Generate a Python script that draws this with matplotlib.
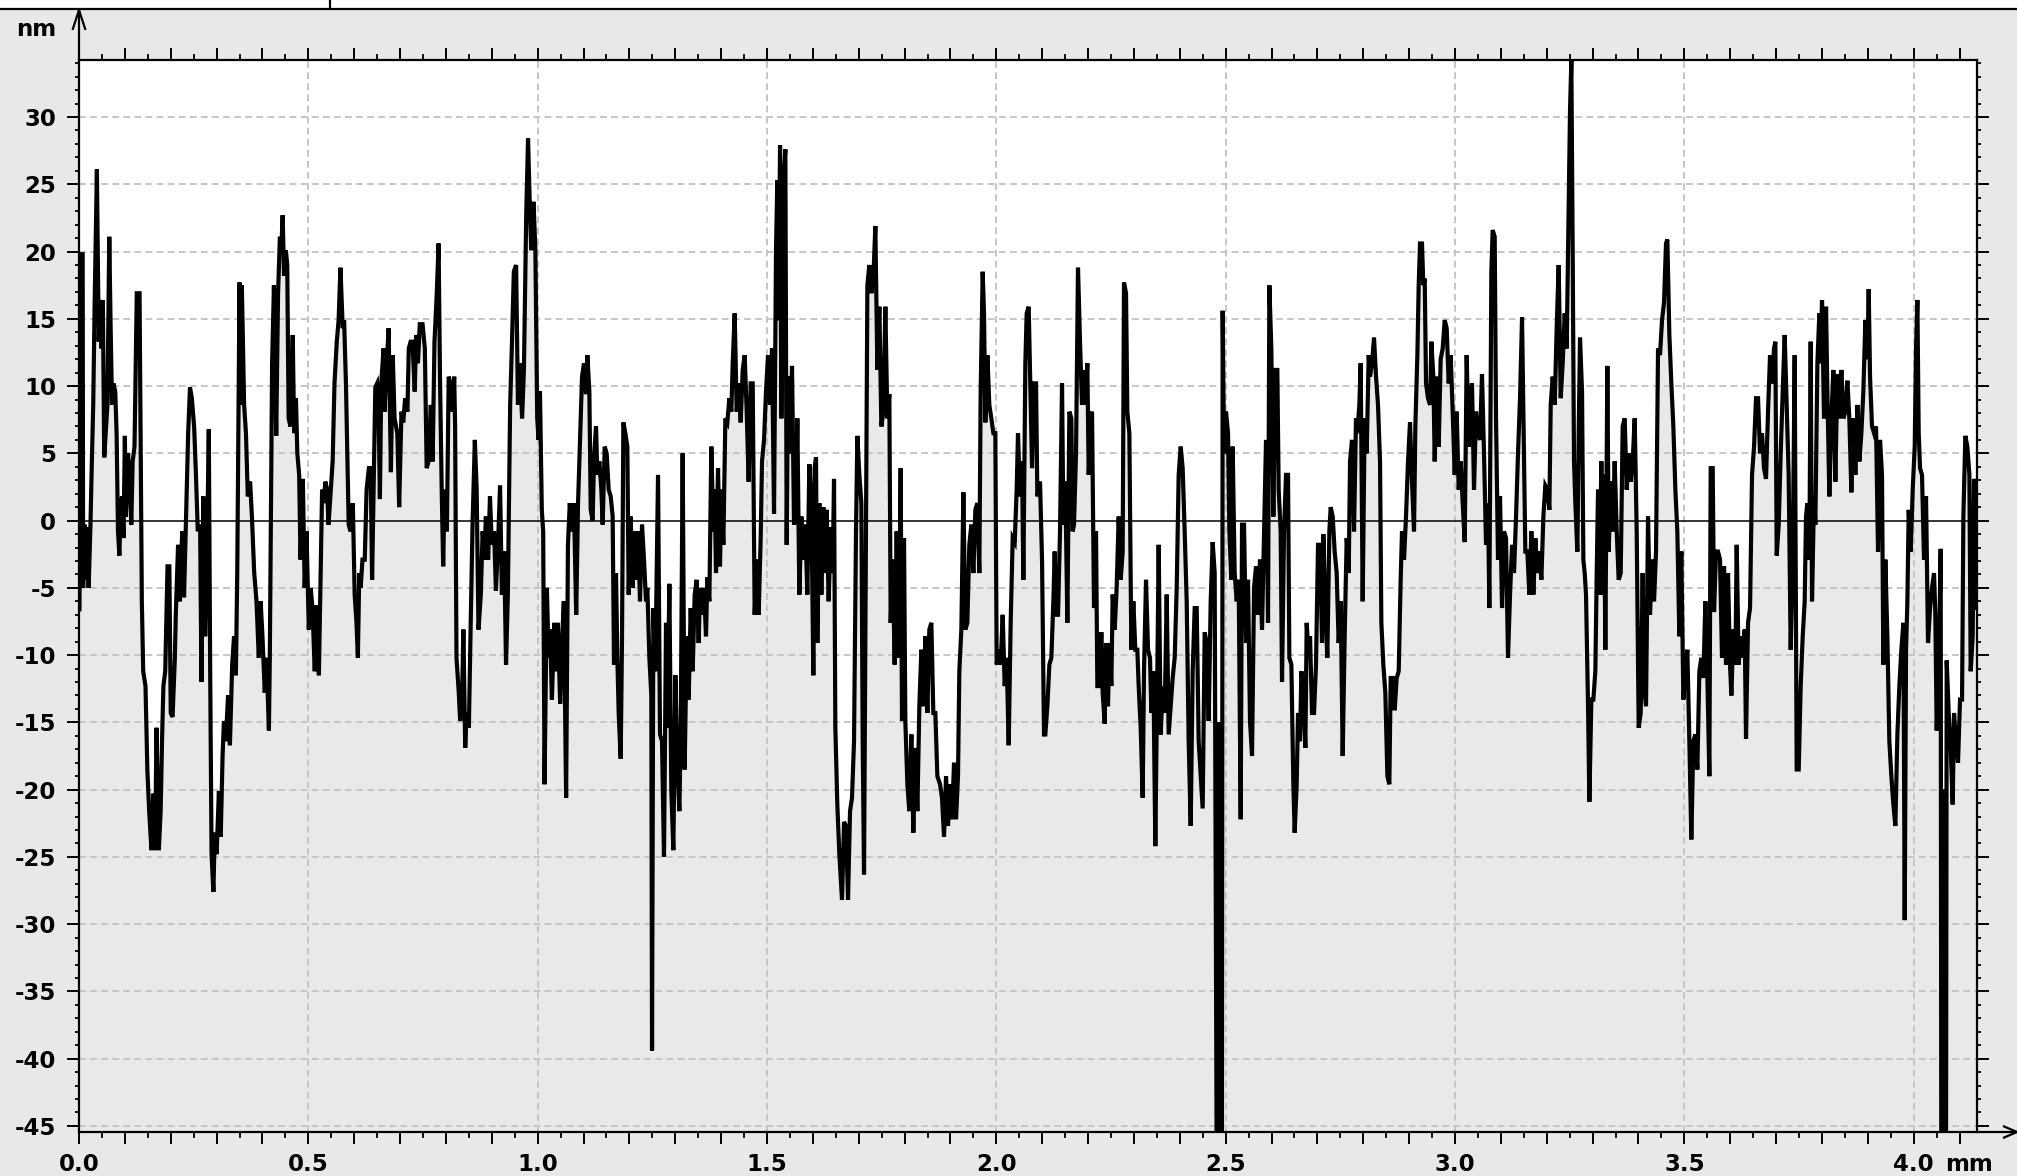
import numpy as np
import matplotlib
matplotlib.use("Agg")
import matplotlib.pyplot as plt
from matplotlib.ticker import MultipleLocator, FuncFormatter
from matplotlib.lines import Line2D
from matplotlib.patches import Rectangle

plt.rcParams['axes.unicode_minus'] = False
plt.rcParams['font.family'] = ['DejaVu Sans']

# ---------------- data: profile position (micrometres) and height (nm) ----------------
seg1_x_um = [1, 5, 8, 9, 12, 15, 18, 21, 25, 28, 31, 34, 39, 43, 46, 49, 52, 55, 59, 62, 66, 69, 72, 75, 79, 82, 85, 88, 91, 94,
             97, 100, 102, 107, 111, 114, 117, 121, 126, 132, 134, 137, 140, 145, 149, 153, 158, 162, 166, 169, 174, 178, 181,
             184, 188, 193, 197, 200, 204, 209, 211, 216, 220, 225, 229, 233, 238, 242, 246, 251, 255, 259, 264, 267, 271, 275,
             278, 283, 286, 289, 293, 296, 300, 305, 309, 313, 316, 320, 325, 329, 334, 338, 342, 345, 350, 352, 355, 360, 364,
             368, 373, 377, 382, 387, 392, 396, 400, 405, 409, 414, 416, 421, 425, 430, 434, 438, 441, 444, 447, 451, 454, 457,
             461, 466, 469, 473, 476, 480, 483, 488, 492, 496, 501, 505, 509, 514, 518, 523, 525, 530, 534, 537, 541, 544, 549,
             553, 557, 562, 566, 570, 575, 578, 582, 588, 592, 597, 601, 605, 608, 611, 614, 618, 623, 627, 632, 636, 639, 642,
             646, 650, 653, 656, 659, 664, 666, 671, 675, 680, 684, 688, 694, 698, 703, 707, 711, 716, 719, 723, 727, 732, 735,
             739, 743, 749, 754, 758, 762, 767, 771, 775, 780, 784, 787, 791, 794, 797, 802, 806, 810, 815, 818, 820, 823, 828,
             831, 835, 838, 842, 845, 850, 854, 858, 863, 867, 871, 876, 880, 884, 887, 892, 896, 900, 905, 909, 914, 918, 922,
             927, 931, 935, 940, 944, 948, 953, 957, 961, 966, 970, 975, 979, 983, 986, 991, 995, 999, 1002, 1005, 1009, 1012,
             1015, 1020, 1024, 1027, 1031, 1036, 1040, 1044, 1049, 1053, 1057, 1062, 1066, 1070, 1075, 1079, 1084, 1088]
seg1_y_nm = [-6.6, 19.8, 19.8, -5.0, -0.3, -4.4, -0.5, -5.0, -0.3, 4.4, 8.6, 15.9, 26.1, 13.3, 16.4, 12.8, 16.4, 4.7, 7.0, 8.6,
             21.1, 14.3, 8.6, 10.2, 9.6, 6.5, -0.8, -2.6, 1.3, 1.8, -1.3, 6.3, 0.3, 5.0, 2.3, -0.3, 4.4, 5.5, 16.9, 16.9, 7.6,
             -6.0, -11.2, -12.3, -18.5, -21.6, -24.5, -20.3, -24.5, -15.4, -24.5, -21.6, -16.4, -12.3, -11.2, -3.4, -3.4, -14.3,
             -14.6, -10.2, -7.0, -1.8, -6.0, -0.8, -5.7, -0.3, 6.5, 9.9, 9.1, 7.0, 3.4, -0.8, -0.3, -12.0, 1.8, -8.6, -5.0, 6.8,
             -11.2, -24.8, -27.6, -23.2, -24.8, -20.1, -23.5, -17.5, -14.9, -16.4, -13.0, -16.7, -10.7, -8.6, -11.5, -3.9, 17.7,
             8.6, 17.5, 8.6, 6.5, 1.8, 2.9, 0.3, -3.9, -6.0, -10.2, -6.0, -8.6, -12.8, -10.2, -15.6, -10.2, 11.7, 17.5, 6.3, 16.9,
             21.1, 20.1, 22.7, 18.2, 20.1, 19.0, 7.6, 7.0, 13.8, 6.5, 9.1, 5.0, 3.4, -2.9, 3.1, -5.0, -0.8, -8.1, -5.0, -6.5,
             -11.2, -6.3, -11.5, -7.6, 2.3, 1.3, 2.9, 2.3, -0.3, 2.3, 4.4, 10.2, 13.3, 14.9, 18.8, 14.3, 14.9, 10.2, -0.3, -0.8,
             1.3, -5.5, -7.6, -10.2, -3.9, -5.0, -2.9, -2.9, 2.3, 3.9, 3.9, -4.4, 1.8, 9.9, 10.2, 8.6, 1.6, 10.2, 12.8, 8.1, 11.7,
             14.3, 3.6, 12.3, 7.6, 6.5, 1.0, 8.1, 7.3, 9.1, 8.1, 12.8, 13.3, 13.3, 9.6, 13.8, 11.7, 14.6, 14.6, 12.8, 3.9, 4.4,
             8.6, 4.4, 13.3, 16.9, 20.6, 10.7, 1.8, -3.4, 2.3, -0.8, 10.7, 10.2, 8.1, 10.7, 7.0, -10.2, -12.8, -14.9, -13.5, -8.1,
             -16.9, -14.3, -15.4, -7.6, -0.3, 6.0, 2.3, -8.1, -5.5, -0.8, -2.9, 0.3, -2.9, 1.8, -1.8, -0.8, -5.2, -1.3, 2.6, -5.5,
             -2.3, -10.7, -5.5, 8.6, 13.3, 18.5, 19.0, 8.6, 11.7, 7.6, 11.2, 22.7, 28.4, 23.2, 20.1, 23.7, 20.1, 7.6, 6.0, 9.6,
             0.8, -0.8, -19.6, -5.0, -10.2, -8.1, -13.3, -7.6, -11.2, -7.6, -13.6, -9.1, -6.0, -20.6, -1.8, 1.3, -0.8, 1.3, -7.0,
             1.3]

seg2_x_um = [1096.7, 1101.0, 1105.4, 1108.3, 1112.7, 1115.6, 1119.9, 1122.8, 1127.2, 1130.1, 1134.5, 1138.8, 1141.7, 1146.1,
             1150.4, 1154.8, 1159.2, 1163.5, 1166.4, 1170.8, 1173.7, 1176.6, 1181.0, 1183.9, 1186.8, 1191.1, 1195.5, 1198.4,
             1202.8, 1207.1, 1210.0, 1214.4, 1218.8, 1223.1, 1227.5, 1231.8, 1236.2, 1239.1, 1243.5, 1247.8, 1249.3, 1252.2,
             1256.5, 1262.4, 1266.7, 1271.1, 1275.4, 1279.8, 1282.7, 1287.1, 1291.4, 1295.8, 1300.2, 1304.5, 1308.9, 1311.8,
             1316.1, 1320.5, 1324.9, 1329.2, 1333.6, 1337.9, 1342.3, 1346.7, 1351.0, 1353.9, 1358.3, 1362.6, 1367.0, 1369.9,
             1374.3, 1378.6, 1383.0, 1385.9, 1388.8, 1393.2, 1397.5, 1400.4, 1404.8, 1409.2, 1413.5, 1417.9, 1422.2, 1425.2,
             1429.5, 1433.9, 1438.2, 1442.6, 1447.0, 1451.3, 1455.7, 1460.0, 1464.4, 1468.8, 1473.1, 1477.5, 1481.8, 1486.2,
             1489.1, 1493.5, 1497.8, 1502.2, 1506.5, 1510.9, 1515.3, 1519.6, 1522.5, 1525.4, 1528.4, 1531.3, 1535.6, 1540.0,
             1542.9, 1545.8, 1550.2, 1554.5, 1558.9, 1563.2, 1566.1, 1570.5, 1574.9, 1579.2, 1583.6, 1587.9, 1592.3, 1596.7,
             1601.0, 1603.9, 1606.8, 1609.7, 1614.1, 1618.5, 1622.8, 1627.2, 1630.1, 1634.4, 1638.8, 1643.2, 1646.1, 1649.0,
             1653.3, 1657.7, 1663.5, 1667.9, 1672.2, 1676.6, 1681.0, 1685.3, 1689.7, 1694.0, 1697.0, 1701.3, 1705.7, 1708.6,
             1711.5, 1715.9, 1718.8, 1723.1, 1727.5, 1731.8, 1736.2, 1740.6, 1744.9, 1749.3, 1753.6, 1758.0, 1762.4, 1766.7,
             1769.6, 1774.0, 1778.3, 1782.7, 1787.1, 1791.4, 1794.3, 1798.7, 1801.6, 1806.0, 1810.3, 1814.7, 1819.0, 1823.4,
             1827.8, 1832.1, 1836.5, 1840.8, 1845.2, 1849.6, 1853.9, 1858.3, 1862.6, 1867.0, 1871.4, 1877.2, 1881.5, 1885.9,
             1890.3, 1894.6, 1899.0, 1903.3, 1907.7, 1912.1, 1916.4, 1919.3, 1923.7, 1928.1, 1932.4, 1936.8, 1941.1, 1945.5,
             1949.9, 1954.2, 1958.6, 1962.9, 1965.8, 1970.2, 1973.1, 1976.0, 1980.4, 1984.7, 1989.1, 1993.5, 1997.8, 2000.7,
             2005.1, 2009.4, 2013.8, 2018.2, 2022.5, 2026.9, 2031.2, 2035.6, 2040.0, 2044.3, 2047.2, 2051.6, 2056.0, 2058.9,
             2063.2, 2066.1, 2070.5, 2073.4, 2077.8, 2082.1, 2086.5, 2089.4, 2095.2, 2099.6, 2103.9, 2106.8, 2111.2, 2115.6,
             2119.9, 2124.3, 2127.2, 2130.1, 2134.5, 2138.8, 2143.2, 2146.1, 2150.4, 2154.8, 2159.2, 2163.5, 2166.4, 2169.3,
             2173.7]
seg2_y_nm = [10.7, 11.7, 9.4, 12.3, 9.6, 0.8, 0.0, 4.7, 7.0, 3.4, 4.4, 2.3, -0.3, 5.5, 5.0, 2.3, 1.8, 0.3, -10.7, -3.9, -10.2,
             -14.3, -17.7, -8.6, 7.3, 6.5, 5.5, -5.5, 0.3, -5.0, -0.8, -4.4, -0.8, -6.0, -0.3, -2.9, -6.0, -5.0, -10.2, -13.0,
             -39.4, -6.5, -11.2, 3.4, -15.9, -16.4, -25.0, -7.6, -15.4, -4.7, -20.1, -24.5, -11.5, -18.0, -21.6, -15.9, 5.0,
             -18.5, -8.6, -13.3, -6.5, -11.2, -5.5, -4.4, -9.1, -5.0, -7.0, -5.0, -8.6, -4.2, -6.0, 5.5, -0.8, 2.3, -3.9, 3.9,
             -3.4, 2.3, -1.8, 7.6, 7.3, 9.1, 8.1, 11.7, 15.4, 8.1, 10.2, 7.3, 11.2, 12.3, 8.1, 2.9, 10.2, 10.2, -7.0, -2.9, -7.0,
             -1.3, 4.4, 6.0, 9.6, 12.3, 8.6, 12.8, 0.5, 20.1, 25.3, 14.9, 27.9, 7.6, 25.3, 27.6, -1.8, 10.7, 5.0, 11.5, -0.3,
             0.8, 7.6, -5.5, 0.3, -2.9, -0.3, -5.5, 4.2, 1.3, -11.5, 3.9, 4.7, -9.1, 1.3, -5.5, 1.0, -3.9, 0.8, -6.0, -0.5, -3.9,
             3.1, -15.4, -21.1, -24.8, -28.2, -22.4, -22.7, -28.2, -21.6, -20.6, -16.4, -0.8, 6.3, 3.4, 1.3, -16.4, -26.3, 0.3,
             17.5, 19.0, 16.9, 18.0, 21.9, 11.2, 15.9, 7.0, 8.1, 15.9, 7.6, 9.4, -7.6, -2.9, -10.7, -0.8, -10.2, 3.9, -14.9,
             -1.3, -14.9, -19.6, -21.6, -15.9, -23.2, -16.9, -21.6, -13.8, -9.6, -13.8, -8.6, -14.3, -8.1, -7.6, -14.3, -14.3,
             -19.0, -19.6, -20.6, -23.5, -19.0, -22.7, -19.6, -22.2, -18.0, -22.2, -19.0, -11.2, -8.1, 2.1, -8.1, -7.6, -1.8,
             -0.3, -3.9, 0.8, 1.3, -3.9, 9.6, 18.5, 15.4, 7.3, 12.3, 8.6, 7.6, 6.5, 6.5, -10.7, -9.6, -10.7, -7.0, -12.3, -10.2,
             -16.7, -7.6, -1.3, -1.6, 2.3, 6.5, 1.8, 4.4, -4.4, 11.7, 15.4, 15.9, 11.2, 3.9, 10.2, 10.2, 1.8, 2.9, -2.9, -15.9,
             -15.9, -13.8, -10.7, -10.2, -6.0, -2.3, -7.0, -7.0, -0.8, 10.2, -0.3, 2.9, -7.6, 8.1, 7.6, -0.8, -0.3, 5.0]

seg3_x_um = [2178.0, 2182.4, 2186.8, 2191.1, 2194.0, 2198.4, 2201.3, 2205.7, 2208.6, 2212.9, 2217.3, 2220.2, 2224.6, 2228.9,
             2231.8, 2236.2, 2239.1, 2243.4, 2246.4, 2250.7, 2253.6, 2258.0, 2262.3, 2266.7, 2271.1, 2275.4, 2278.3, 2282.7,
             2285.6, 2290.0, 2294.3, 2298.7, 2303.0, 2307.4, 2310.3, 2314.7, 2319.0, 2321.9, 2326.3, 2330.7, 2335.0, 2337.9,
             2342.3, 2346.6, 2351.0, 2353.9, 2358.3, 2362.6, 2367.0, 2371.4, 2375.7, 2380.1, 2384.4, 2388.8, 2393.2, 2397.5,
             2401.9, 2406.2, 2410.6, 2415.0, 2419.3, 2423.7, 2428.0, 2432.4, 2436.8, 2441.1, 2445.5, 2449.8, 2454.2, 2458.6,
             2462.9, 2467.3, 2471.6, 2476.0, 2481.5, 2484.5, 2487.5, 2491.5, 2493.4, 2496.4, 2500.7, 2505.1, 2508.0, 2512.3,
             2515.2, 2519.6, 2524.0, 2528.3, 2532.7, 2535.6, 2540.0, 2544.3, 2548.7, 2553.0, 2557.4, 2561.8, 2566.1, 2570.5,
             2574.8, 2579.2, 2583.6, 2587.9, 2592.3, 2595.2, 2599.5, 2603.9, 2608.3, 2612.6, 2615.5, 2619.9, 2622.8, 2627.2,
             2631.5, 2635.9, 2638.8, 2643.2, 2647.5, 2650.4, 2654.8, 2657.7, 2662.1, 2665.0, 2669.3, 2673.7, 2676.6, 2681.0,
             2683.9, 2688.2, 2692.6, 2696.9, 2701.3, 2705.7, 2710.0, 2712.9, 2717.3, 2721.6, 2726.0, 2728.9, 2733.3, 2737.6,
             2742.0, 2746.3, 2750.7, 2755.1, 2759.4, 2763.8, 2768.2, 2771.1, 2775.4, 2779.8, 2784.1, 2787.0, 2791.4, 2794.3,
             2798.7, 2803.0, 2807.4, 2811.8, 2814.7, 2819.0, 2823.4, 2827.8, 2832.1, 2836.5, 2839.4, 2843.7, 2848.1, 2852.5,
             2856.8, 2859.7, 2864.1, 2868.4, 2872.8, 2877.2, 2881.5, 2884.4, 2888.8, 2893.1, 2897.5, 2901.9, 2906.2, 2910.6,
             2913.5, 2917.9, 2920.8, 2923.7, 2928.0, 2930.9, 2933.9, 2936.8, 2941.1, 2945.5, 2948.4, 2952.7, 2955.7, 2960.0,
             2964.4, 2968.7, 2973.1, 2977.5, 2981.8, 2986.2, 2990.5, 2994.9, 2999.3, 3003.6, 3008.0, 3012.3, 3016.7, 3021.1,
             3025.4, 3029.8, 3032.7, 3037.0, 3041.4, 3045.8, 3050.1, 3054.5, 3058.8, 3063.2, 3067.6, 3071.9, 3074.8, 3079.2,
             3082.1, 3086.5, 3089.4, 3093.7, 3098.1, 3102.5, 3106.8, 3111.2, 3115.5, 3119.9, 3124.3, 3128.6, 3133.0, 3137.3,
             3141.7, 3146.1, 3149.0]
seg3_y_nm = [18.8, 13.3, 8.6, 11.2, 8.6, 11.7, 3.4, 7.6, 8.1, -6.5, -0.8, -12.3, -12.3, -8.3, -12.8, -15.1, -9.1, -13.8, -9.1,
             -12.3, -5.5, -8.1, -5.0, 0.3, -4.4, -2.3, 17.7, 16.9, 8.1, 6.5, -9.6, -6.0, -9.6, -9.6, -12.3, -15.4, -20.6, -11.2,
             -4.4, -9.6, -10.2, -14.3, -11.2, -24.2, -11.2, -1.8, -15.9, -12.3, -14.3, -5.5, -15.9, -13.8, -11.7, -10.2, -5.0,
             3.4, 5.5, 3.9, -0.8, -6.0, -16.4, -22.7, -11.2, -6.5, -6.5, -16.4, -19.0, -21.4, -8.3, -9.1, -14.9, -6.0, -1.6,
             -3.9, -60.0, -15.0, -60.0, -60.0, 15.6, 5.0, 8.1, 6.5, -0.8, -4.4, 5.5, -3.9, -6.0, -4.4, -22.2, -0.3, -0.3, -9.1,
             -4.4, -14.9, -17.5, -5.0, -3.4, -7.0, -2.9, -8.1, -0.8, 6.0, -7.6, 17.5, 12.8, 0.3, 11.2, 11.2, 2.3, -0.8, -12.0,
             -0.8, 3.4, 3.4, -10.2, -10.7, -19.6, -23.2, -19.6, -14.3, -16.4, -11.2, -12.8, -16.9, -7.6, -10.2, -8.6, -14.3,
             -14.3, -10.7, -1.8, -1.8, -9.1, -1.0, -6.5, -10.2, -0.8, 1.0, 0.3, -2.3, -3.9, -9.1, -6.0, -17.5, -8.6, -1.3, -3.9,
             4.4, 6.0, -0.8, 7.6, 6.5, 8.6, 11.7, -6.0, 7.6, 5.0, 12.3, 10.7, 11.7, 13.6, 10.7, 8.6, 4.4, -7.6, -10.7, -12.8,
             -19.0, -19.6, -11.7, -11.7, -14.1, -11.7, -11.2, -4.4, -0.8, -2.9, 0.3, 4.4, 7.3, 2.9, -0.8, 7.0, 12.3, 17.5, 20.6,
             20.6, 17.5, 18.0, 10.2, 9.1, 8.6, 13.3, 10.7, 4.4, 10.7, 5.5, 12.0, 12.8, 14.9, 14.3, 10.2, 12.3, 8.1, 3.4, 8.1,
             2.3, 4.4, 1.3, -1.6, 12.3, 5.5, 9.1, 10.2, 2.3, 8.1, 6.5, 6.0, 10.9, 5.0, -1.8, 1.3, -6.5, 18.5, 21.6, 21.1, 7.6,
             -2.9, 1.8, -6.5, -0.8, -1.3, -10.2, -5.5, -1.8, -3.9, 0.3, 5.0, 9.1, 15.1, 8.1]

seg4_x_um = [3153.3, 3157.7, 3162.0, 3166.4, 3170.8, 3175.1, 3179.5, 3183.9, 3188.2, 3192.6, 3196.9, 3201.3, 3205.7, 3208.6,
             3212.9, 3217.3, 3221.6, 3226.0, 3230.4, 3234.7, 3239.1, 3243.4, 3246.4, 3250.7, 3253.6, 3256.5, 3259.4, 3262.3,
             3266.7, 3269.6, 3272.5, 3276.9, 3279.8, 3282.7, 3285.6, 3290.0, 3292.9, 3297.2, 3301.6, 3305.9, 3308.9, 3311.8,
             3314.7, 3319.0, 3321.9, 3324.8, 3327.7, 3332.1, 3335.0, 3339.4, 3343.7, 3348.1, 3352.5, 3356.8, 3361.2, 3365.5,
             3369.9, 3374.3, 3378.6, 3383.0, 3387.3, 3391.7, 3396.1, 3400.4, 3404.8, 3409.1, 3412.0, 3416.4, 3420.8, 3425.1,
             3429.5, 3433.9, 3438.2, 3442.6, 3446.9, 3451.3, 3455.6, 3460.0, 3462.9, 3467.3, 3471.6, 3476.0, 3480.4, 3484.7,
             3489.1, 3493.4, 3497.8, 3502.2, 3506.5, 3510.9, 3515.2, 3519.6, 3524.0, 3528.3, 3532.7, 3537.0, 3541.4, 3545.8,
             3550.1, 3554.5, 3557.4, 3561.8, 3564.7, 3569.0, 3573.4, 3577.7, 3582.1, 3586.5, 3590.8, 3595.2, 3599.5, 3602.5,
             3606.8, 3611.2, 3614.1, 3618.4, 3622.8, 3627.2, 3631.5, 3634.4, 3638.8, 3643.2, 3647.5, 3651.9, 3656.2, 3660.6,
             3665.0, 3669.3, 3673.7, 3678.0, 3682.4, 3686.8, 3691.1, 3695.5, 3698.4, 3701.3, 3705.7, 3710.0, 3714.4, 3718.7,
             3723.1, 3727.4, 3731.8, 3736.2, 3740.5, 3744.9, 3749.3, 3753.6, 3758.0, 3762.3, 3765.2, 3768.1, 3772.5, 3775.4,
             3778.3, 3782.7, 3785.6, 3790.0, 3794.3, 3797.2, 3800.1, 3804.5, 3808.9, 3811.8, 3816.1, 3820.5, 3824.8, 3829.2,
             3833.6, 3837.9, 3842.3, 3846.6, 3851.0, 3855.4, 3859.7, 3864.1, 3868.4, 3872.8, 3877.2, 3881.5, 3885.9, 3890.2,
             3894.6, 3899.0, 3901.9, 3904.8, 3909.1, 3913.5, 3917.9, 3922.2, 3926.6, 3930.9, 3933.8, 3938.2, 3942.6, 3946.9,
             3951.3, 3955.6, 3960.0, 3964.4, 3968.7, 3973.1, 3977.5, 3980.4, 3983.3, 3986.2, 3989.1, 3993.4, 3997.8, 4002.2,
             4005.1, 4008.0, 4010.9, 4013.8, 4018.1, 4022.5, 4026.9, 4031.2, 4035.6, 4039.9, 4044.3, 4047.2, 4050.1, 4054.5,
             4058.8, 4060.5, 4065.5, 4070.0, 4071.9, 4076.3, 4080.7, 4085.0, 4087.9, 4092.3, 4096.6, 4101.0, 4105.4, 4108.3,
             4112.6, 4117.0, 4121.4, 4124.2, 4128.6, 4131.5, 4134.4, 4135.9]
seg4_y_nm = [-2.3, -2.3, -5.5, -0.8, -5.5, -1.3, -3.9, -2.3, -4.4, 0.3, 2.6, 2.3, 0.8, 8.6, 10.7, 8.6, 14.3, 19.0, 9.1, 11.7,
             15.4, 12.8, 20.1, 30.5, 34.2, 20.1, 4.4, 1.3, -2.3, 6.5, 13.6, 9.6, -2.9, -3.9, -5.5, -13.8, -20.9, -13.3, -13.3,
             -11.2, -3.9, 2.3, -5.5, 4.4, -5.5, 3.4, -9.6, 11.5, -2.3, 2.9, -0.8, 4.4, -0.8, -4.4, -3.9, 7.0, 7.6, 2.3, 5.0,
             2.9, 4.4, 7.6, -0.8, -15.4, -14.3, -3.9, -12.3, -13.8, 0.3, -7.0, -2.9, -6.0, -2.3, 12.8, 12.3, 14.9, 16.2, 20.6,
             20.9, 13.8, 10.2, 7.0, 2.3, -0.8, -8.6, -2.3, -13.3, -11.2, -9.6, -16.4, -23.7, -16.4, -15.9, -18.5, -11.2, -10.2,
             -11.7, -6.0, -11.5, -19.0, 3.9, 3.9, -6.8, -2.3, -2.3, -2.9, -10.2, -3.4, -10.7, -3.9, -10.7, -13.0, -8.1, -10.7,
             -1.8, -10.7, -8.6, -10.2, -8.1, -16.2, -7.6, -6.5, 3.4, 5.5, 9.1, 9.1, 5.0, 6.5, 3.9, 3.1, 8.1, 12.3, 10.2, 12.8,
             13.3, -2.6, -0.3, 5.0, 9.6, 13.8, 8.6, 3.4, -9.6, -2.9, 12.3, -18.5, -18.5, -12.3, -8.6, -6.0, 0.3, 1.3, -2.9, 13.3,
             -6.0, 1.8, -0.3, 11.7, 15.4, 11.7, 16.4, 7.6, 15.9, 9.6, 1.8, 7.6, 11.2, 2.9, 10.9, 7.6, 11.2, 7.6, 8.1, 10.4, 7.6,
             2.1, 7.6, 3.4, 8.6, 4.4, 6.5, 9.6, 14.9, 12.0, 17.2, 10.7, 7.0, 6.5, 7.0, -2.3, 6.0, 3.4, -10.7, -2.9, -8.6, -16.4,
             -19.0, -21.1, -22.7, -15.9, -12.3, -9.6, -7.6, -29.7, -9.6, -6.0, 0.8, -2.3, 2.3, 5.5, 12.8, 16.4, 6.5, 3.9, 3.4,
             -2.9, 1.8, -9.1, -6.5, -5.0, -3.9, -7.0, -15.6, -11.2, -2.1, -60.0, -20.0, -60.0, -10.4, -14.3, -16.9, -21.1,
             -14.3, -16.4, -18.0, -13.3, -13.3, 0.3, 6.3, 5.5, 3.4, -11.2, -8.6, 3.1, 2.3, -6.5]

x_major_labels = ["0.0", "0.5", "1.0", "1.5", "2.0", "2.5", "3.0", "3.5", "4.0"]
x_unit, y_unit = "mm", "nm"
x_range = (0.0, 4.138)
y_range = (-45.45, 34.24)

# ---------------- styling ----------------
BG = "#e8e8e8"
FILL = "#e9e9e9"
GRID = "#c6c6c6"
FS = 16.5
W, H = 2017, 1176

x = np.concatenate([seg1_x_um, seg2_x_um, seg3_x_um, seg4_x_um]) / 1000.0
y = np.concatenate([seg1_y_nm, seg2_y_nm, seg3_y_nm, seg4_y_nm])

fig = plt.figure(figsize=(W / 100, H / 100), dpi=100, facecolor=BG)
L, R, T, B = 79, 1977, 60, 1132
ax = fig.add_axes([L / W, 1 - B / H, (R - L) / W, (B - T) / H])
ax.set_facecolor("white")
ax.set_xlim(*x_range)
ax.set_ylim(*y_range)

ax.fill_between(x, y, y_range[0] - 50, color=FILL, lw=0, zorder=1)

# grid
for gx in np.arange(0.5, x_range[1], 0.5):
    ax.axvline(gx, color=GRID, lw=1.4, ls=(0, (3.5, 2.2)), zorder=2)
for gy in np.arange(-45, 31, 5):
    if gy != 0:
        ax.axhline(gy, color=GRID, lw=1.4, ls=(0, (3.5, 2.2)), zorder=2)
ax.axhline(0, color="black", lw=1.1, zorder=3)

ax.plot(x, y, color="black", lw=3.0, zorder=4, solid_joinstyle="miter", clip_on=True)

for s in ax.spines.values():
    s.set_linewidth(1.6)
    s.set_color("black")
    s.set_zorder(5)

ax.xaxis.set_major_locator(MultipleLocator(0.1))
ax.xaxis.set_minor_locator(MultipleLocator(0.05))
ax.yaxis.set_major_locator(MultipleLocator(5))
ax.yaxis.set_minor_locator(MultipleLocator(1))


def xfmt(v, p):
    k = v / 0.5
    if abs(k - round(k)) < 1e-6 and 0 <= int(round(k)) < len(x_major_labels):
        return x_major_labels[int(round(k))]
    return ""


ax.xaxis.set_major_formatter(FuncFormatter(xfmt))
ax.yaxis.set_major_formatter(FuncFormatter(lambda v, p: "%d" % round(v)))

ax.tick_params(axis="both", which="both", direction="out", top=True, right=True, labeltop=False, labelright=False,
               color="black")
ax.tick_params(axis="x", which="major", length=8.3, width=1.4, pad=6.5, labelsize=FS)
ax.tick_params(axis="x", which="minor", length=4.2, width=1.3)
ax.tick_params(axis="y", which="major", length=8.8, width=1.4, pad=7.5, labelsize=FS)
ax.tick_params(axis="y", which="minor", length=3.2, width=1.3)
for lab in ax.get_xticklabels() + ax.get_yticklabels():
    lab.set_fontweight("bold")

# unit labels
fig.text(1945 / W, 1 - 1171 / H, x_unit, ha="left", va="baseline", fontsize=FS, fontweight="bold")
fig.text(56 / W, 1 - 36 / H, y_unit, ha="right", va="baseline", fontsize=FS, fontweight="bold")


def fline(xs, ys, lw=1.6):
    fig.add_artist(Line2D([v / W for v in xs], [1 - v / H for v in ys], transform=fig.transFigure,
                          color="black", lw=lw, solid_capstyle="butt", clip_on=False))


# axis arrows
fline([L, L], [T, 10])
fline([L - 6.5, L, L + 6.5], [30, 10, 30])
fline([R, 2017], [B, B])
fline([2003, 2017, 2003], [B - 6, B, B + 6])

# top strip
fig.add_artist(Rectangle((0, 1 - 9 / H), 1, 9 / H, transform=fig.transFigure, facecolor="white", edgecolor="none"))
fline([0, W], [9, 9], lw=1.6)
fline([330, 330], [0, 9], lw=1.6)

fig.savefig("out.png", dpi=100, facecolor=BG)
